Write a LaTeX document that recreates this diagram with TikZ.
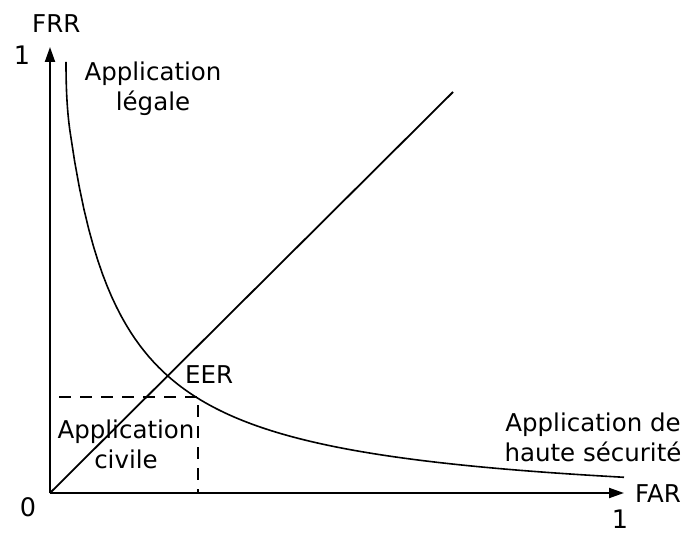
\documentclass[tikz,border=0pt]{standalone}
\usepackage{fontspec}
\setmainfont{DejaVu Sans}
\usetikzlibrary{arrows.meta}

\begin{document}
\begin{tikzpicture}[x=1pt, y=-1pt,
  axis/.style={line width=2pt, -{Triangle[length=15pt,width=10pt]}},
  lbl/.style={font=\fontsize{24.5}{30}\selectfont, inner sep=0pt, align=center},
  num/.style={font=\fontsize{25.5}{30}\selectfont, inner sep=0pt}]

\useasboundingbox (0,0) rectangle (687,534);

\coordinate (O) at (50,493);
\coordinate (ytip) at (50,47);
\coordinate (xtip) at (624,493);
\coordinate (diagend) at (453,92);
\coordinate (civcorner) at (198,397);
\coordinate (curvetop) at (66,62);

% zone civile
\draw[line width=2pt, dash pattern=on 12pt off 9pt] 
      (O) rectangle (civcorner);

% axes
\draw[axis] (O) -- (ytip);
\draw[axis] (O) -- (xtip);

% FAR = FRR
\draw[line width=1.8pt] (O) -- (diagend);

% courbe
\draw[line width=1.6pt] (curvetop) .. controls (66,88) and (67,110) .. (70,131.4)
      plot[domain=70:624, samples=120] (\x, {511-205/((\x-16)/100)});

\draw (32,33) node[lbl, anchor=base west] (frr) {FRR}
      (635,502) node[lbl, anchor=base west] (far) {FAR}
      (185,383) node[lbl, anchor=base west] (eer) {EER};
\draw (22,55) node[num] (yone) {1}
      (620,519) node[num] (xone) {1}
      (28,507) node[num] (zero) {0};

\draw (153,89) node[lbl] (legale) {Application\\légale}
      (126,444) node[lbl] (civile) {Application\\civile}
      (593,437) node[lbl] (haute) {Application de\\haute sécurité};

\end{tikzpicture}
\end{document}
